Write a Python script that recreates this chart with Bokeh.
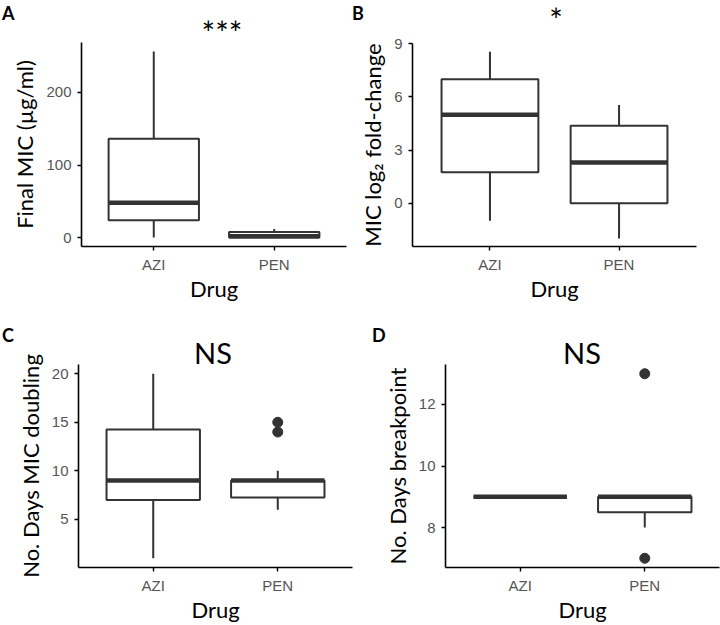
from bokeh.plotting import figure
from bokeh.models import Range1d, FactorRange, FixedTicker, Div
from bokeh.layouts import row, column
from bokeh.embed import file_html
from bokeh.resources import INLINE

drugs = ["AZI", "PEN"]
panel_letters = ["A", "B", "C", "D"]
significance = ["***", "*", "NS", "NS"]
x_title = "Drug"
y_titles = ["Final MIC (µg/ml)", "MIC log₂ fold-change",
            "No. Days MIC doubling", "No. Days breakpoint"]

# Panel A: Final MIC (ug/ml)
a_low = [0.5, 0.25]
a_q1 = [24, 0.5]
a_med = [48, 2]
a_q3 = [136, 8]
a_high = [256, 12]
a_out_x = []
a_out_y = []
a_ticks = [0, 100, 200]

# Panel B: MIC log2 fold-change
b_low = [-1, -2]
b_q1 = [1.75, 0]
b_med = [5, 2.3]
b_q3 = [7, 4.37]
b_high = [8.55, 5.55]
b_out_x = []
b_out_y = []
b_ticks = [0, 3, 6, 9]

# Panel C: No. Days MIC doubling
c_low = [1, 6]
c_q1 = [7, 7.25]
c_med = [9, 9]
c_q3 = [14.25, 9]
c_high = [20, 10]
c_out_x = ["PEN", "PEN"]
c_out_y = [14, 15]
c_ticks = [5, 10, 15, 20]

# Panel D: No. Days breakpoint
d_low = [9, 8]
d_q1 = [9, 8.5]
d_med = [9, 9]
d_q3 = [9, 9]
d_high = [9, 9]
d_out_x = ["PEN", "PEN"]
d_out_y = [13, 7]
d_ticks = [8, 10, 12]

BOX = "#333333"
TICKC = "#555555"
TFONT = "Lato"


def panel(w, h, borders, yrange, ticks, ylabel,
          low, q1, med, q3, high, out_x, out_y):
    bl, br, bt, bb = borders
    p = figure(width=w, height=h,
               x_range=FactorRange(factors=drugs, range_padding=0.1,
                                   range_padding_units="absolute"),
               y_range=Range1d(*yrange),
               output_backend="svg", toolbar_location=None,
               min_border_left=bl, min_border_right=br,
               min_border_top=bt, min_border_bottom=bb)
    p.xgrid.visible = False
    p.ygrid.visible = False
    p.outline_line_color = None
    p.background_fill_color = "white"
    p.border_fill_color = None

    for ax in (p.xaxis[0], p.yaxis[0]):
        ax.axis_line_color = "black"
        ax.axis_line_width = 1.6
        ax.major_tick_line_color = "black"
        ax.major_tick_line_width = 1.4
        ax.major_tick_in = 0
        ax.major_tick_out = 4
        ax.minor_tick_line_color = None
        ax.major_label_text_font = "Liberation Sans"
        ax.major_label_text_font_size = "15px"
        ax.major_label_text_color = TICKC
        ax.major_label_text_line_height = 1.0
        ax.axis_label_text_font = TFONT
        ax.axis_label_text_font_size = "22px"
        ax.axis_label_text_font_style = "normal"
        ax.axis_label_text_color = "black"
        ax.axis_label_text_line_height = 1.0
    p.yaxis.ticker = FixedTicker(ticks=ticks, minor_ticks=[])
    p.xaxis.major_label_standoff = 5
    p.xaxis.axis_label_standoff = -1
    p.yaxis.major_label_standoff = 6
    p.yaxis.axis_label_standoff = 5
    p.xaxis.axis_label = x_title
    p.yaxis.axis_label = ylabel

    # whiskers
    p.segment(x0=drugs, y0=q3, x1=drugs, y1=high, line_color=BOX, line_width=2)
    p.segment(x0=drugs, y0=q1, x1=drugs, y1=low, line_color=BOX, line_width=2)
    # boxes
    p.vbar(x=drugs, bottom=q1, top=q3, width=0.75, fill_color="white",
           line_color=BOX, line_width=2)
    # medians
    p.rect(x=drugs, y=med, width=0.75, height=4.5, height_units="screen",
           fill_color=BOX, line_color=None)
    if out_x:
        p.scatter(x=out_x, y=out_y, size=10, fill_color=BOX, line_color=BOX)
    return p


def header(w, h, letter, letter_left, letter_top, sig, sig_center, sig_top,
           sig_size, sig_lh="normal"):
    html = (
        f'<div style="position:relative;width:{w}px;height:{h}px;overflow:visible;">'
        f'<span style="position:absolute;left:{letter_left}px;top:{letter_top}px;'
        f'font-family:Lato;font-weight:bold;font-size:18px;line-height:normal;'
        f'color:black;white-space:nowrap;">{letter}</span>'
        f'<span style="position:absolute;left:{sig_center - 100}px;top:{sig_top}px;'
        f'width:200px;text-align:center;font-family:Lato;font-size:{sig_size}px;'
        f'line-height:{sig_lh};color:black;white-space:nowrap;z-index:5;">{sig}</span>'
        f'</div>'
    )
    return Div(text=html, width=w, height=h, margin=0,
               styles={"overflow": "visible", "z-index": "5"})


pa = panel(350, 270, (81, 4, 8, 56), (-12, 268.5), a_ticks, y_titles[0],
           a_low, a_q1, a_med, a_q3, a_high, a_out_x, a_out_y)
pb = panel(370, 270, (62, 24, 9, 56), (-2.45, 9.02), b_ticks, y_titles[1],
           b_low, b_q1, b_med, b_q3, b_high, b_out_x, b_out_y)
pc = panel(360, 273, (78, 8, 12, 52), (0.05, 20.95), c_ticks, y_titles[2],
           c_low, c_q1, c_med, c_q3, c_high, c_out_x, c_out_y)
pd_ = panel(360, 273, (85, 1, 12, 52), (6.7, 13.3), d_ticks, y_titles[3],
            d_low, d_q1, d_med, d_q3, d_high, d_out_x, d_out_y)

ha = header(350, 34, panel_letters[0], 2, 2, significance[0], 222, 13, 32)
hb = header(370, 34, panel_letters[1], 2, 2, significance[1], 206, 0, 32)
hc = header(360, 48, panel_letters[2], 2, 20, significance[2], 213, 31, 29)
hd = header(360, 48, panel_letters[3], 12, 20, significance[3], 222, 31, 29)

layout = column(
    row(column(ha, pa), column(hb, pb)),
    row(column(hc, pc), column(hd, pd_)),
)

open("out.html", "w").write(file_html(layout, INLINE))
